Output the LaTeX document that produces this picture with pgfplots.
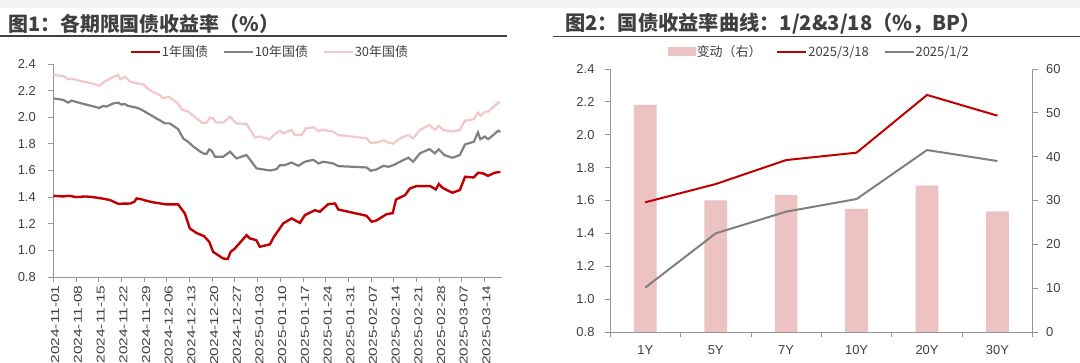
\documentclass[border=0pt]{standalone}
\usepackage{pgfplots}
\pgfplotsset{compat=1.18}
\usepackage{fontspec}
\setmainfont{Liberation Sans}
\newfontfamily\cjk{Noto Sans CJK SC}
\definecolor{cred}{RGB}{192,0,0}
\definecolor{cgray}{RGB}{128,128,128}
\definecolor{cpink}{RGB}{242,200,200}
\definecolor{cbar}{RGB}{236,194,194}
\definecolor{caxis}{RGB}{150,150,150}
\definecolor{ctext}{RGB}{64,64,64}
\newcommand\dl[1]{\scalebox{1.35}[1]{#1}}
\begin{document}
\begin{tikzpicture}
\useasboundingbox (0,0) rectangle (1080bp,363bp);
\fill[white] (0,0) rectangle (1080bp,363bp);
\fill[black!5] (0,355bp) rectangle (1080bp,363bp);
\node[anchor=west,inner sep=0pt,text=ctext] at (8bp,339bp) {\cjk\bfseries\fontsize{20}{23}\selectfont 图1：各期限国债收益率（\%）};
\draw[ctext,line width=1.2bp] (0,327bp) -- (507bp,327bp);
\node[anchor=west,inner sep=0pt,text=ctext] at (565bp,339bp) {\cjk\bfseries\fontsize{20.3}{23}\selectfont 图2：国债收益率曲线：1/2\&3/18（\%，BP）};
\draw[ctext,line width=1.2bp] (553bp,326.5bp) -- (1080bp,326.5bp);

\begin{axis}[
 at={(53.3bp,86bp)}, anchor=south west,
 width=448.7bp, height=213bp, scale only axis,
 xmin=0, xmax=138.4, ymin=0.8, ymax=2.4,
 axis x line*=bottom, axis y line*=left,
 axis line style={caxis, line width=0.8bp, -},
 tick align=outside, major tick length=5bp,
 tick style={caxis, line width=0.8bp},
 xtick={0,7,...,133},
 xticklabels={\dl{2024-11-01},\dl{2024-11-08},\dl{2024-11-15},\dl{2024-11-22},\dl{2024-11-29},\dl{2024-12-06},\dl{2024-12-13},\dl{2024-12-20},\dl{2024-12-27},\dl{2025-01-03},\dl{2025-01-10},\dl{2025-01-17},\dl{2025-01-24},\dl{2025-01-31},\dl{2025-02-07},\dl{2025-02-14},\dl{2025-02-21},\dl{2025-02-28},\dl{2025-03-07},\dl{2025-03-14}},
 xticklabel style={rotate=90, anchor=east, font=\fontsize{11.5}{13}\selectfont, text=ctext, yshift=-2bp},
 ytick={0.8,1.0,1.2,1.4,1.6,1.8,2.0,2.2,2.4},
 yticklabel style={font=\fontsize{13}{15}\selectfont, text=ctext, xshift=-9bp},
 /pgf/number format/fixed, /pgf/number format/fixed zerofill, /pgf/number format/precision=1,
 /pgf/number format/assume math mode=true,
 legend style={at={(0.482,1.056)}, anchor=center, draw=none, fill=none, legend columns=3,
   font=\cjk\fontsize{13}{15}\selectfont, text=ctext, nodes={inner sep=1bp},
   /tikz/every even column/.append style={column sep=14bp}},
 legend image code/.code={\draw[#1,line width=1.8bp] (0bp,0bp) -- (29bp,0bp);},
]
\addplot[cred, line width=2.4bp] coordinates {(0,1.41)(3,1.405)(5,1.41)(7,1.40)(10,1.405)(12.3,1.40)(15,1.39)(17.5,1.378)(20,1.35)(23.7,1.352)(25,1.365)(25.7,1.39)(27,1.385)(28.8,1.372)(31,1.36)(32.9,1.353)(35,1.345)(38.5,1.345)(40.6,1.277)(42.1,1.165)(44.2,1.13)(46.5,1.107)(48.1,1.064)(49.3,0.989)(50.4,0.971)(52.4,0.939)(53.8,0.935)(54.7,0.989)(56,1.014)(59.6,1.114)(60.6,1.09)(62.6,1.077)(63.7,1.027)(66.8,1.045)(68,1.10)(70.9,1.202)(73.5,1.24)(75,1.22)(76.1,1.207)(77.6,1.265)(80.7,1.302)(82.2,1.29)(84.8,1.347)(86.9,1.352)(87.9,1.307)(96.6,1.26)(98.2,1.215)(99.7,1.225)(102.8,1.272)(104.7,1.28)(105.7,1.382)(108.5,1.415)(110,1.465)(112,1.483)(116.2,1.483)(118,1.458)(118.9,1.498)(120.2,1.468)(123.1,1.433)(125.4,1.453)(127,1.553)(129.7,1.548)(131,1.583)(132.6,1.578)(134.1,1.56)(136.1,1.583)(137.9,1.59)};
\addlegendentry{1年国债}
\addplot[cgray, line width=2.2bp] coordinates {(0,2.142)(3.1,2.13)(4.6,2.11)(5.6,2.125)(9.3,2.10)(11.8,2.085)(14.2,2.07)(15.4,2.085)(16.4,2.08)(18.5,2.104)(20,2.11)(21,2.095)(22,2.10)(23.1,2.085)(25.7,2.072)(27.2,2.057)(28.8,2.034)(31.9,1.99)(32.9,1.977)(34.4,1.954)(35.9,1.954)(38.5,1.911)(40.1,1.84)(41.6,1.815)(43.2,1.78)(45.2,1.744)(46.5,1.726)(47.3,1.726)(48.1,1.759)(48.8,1.749)(49.9,1.703)(52.4,1.703)(54.5,1.741)(56.5,1.691)(59.6,1.716)(62.7,1.616)(66.8,1.60)(68.9,1.61)(69.9,1.64)(71.4,1.64)(73.5,1.66)(75.6,1.635)(77.6,1.666)(80.2,1.68)(81.8,1.653)(83.3,1.666)(86.3,1.653)(87.9,1.633)(96.6,1.623)(97.9,1.598)(99.7,1.608)(101.8,1.635)(103.4,1.628)(104.9,1.64)(106.9,1.666)(109.5,1.696)(111,1.666)(113.1,1.729)(116,1.761)(117.7,1.729)(118.9,1.759)(120.6,1.716)(123.1,1.696)(125.4,1.716)(127,1.796)(129.7,1.816)(131,1.886)(131.7,1.835)(133.1,1.855)(134.1,1.835)(135.8,1.868)(137.2,1.899)(137.9,1.89)};
\addlegendentry{10年国债}
\addplot[cpink, line width=2.2bp] coordinates {(0,2.317)(3.1,2.31)(4.6,2.285)(5.6,2.29)(9.3,2.267)(11.8,2.255)(14.2,2.237)(15.4,2.26)(17.5,2.29)(19,2.31)(20,2.317)(20.6,2.285)(22.1,2.305)(23.7,2.267)(25.7,2.255)(27.8,2.247)(28.8,2.222)(30.9,2.187)(32.9,2.167)(33.9,2.142)(35.5,2.155)(37,2.13)(38.5,2.10)(39.8,2.054)(41.6,2.042)(43.2,2.012)(44.7,1.98)(46.3,1.954)(47.3,1.96)(48.3,1.997)(49.3,1.992)(50.2,1.96)(52.4,1.96)(54.5,2.004)(56.5,1.954)(59.6,1.95)(62.2,1.849)(63.7,1.855)(66.8,1.834)(67.8,1.862)(69.9,1.899)(70.9,1.88)(73.5,1.905)(74.5,1.867)(76.6,1.867)(77.9,1.917)(80.2,1.925)(81.7,1.897)(83.3,1.905)(86.3,1.892)(87.9,1.867)(96.6,1.842)(97.9,1.808)(99.7,1.81)(101.8,1.827)(103.3,1.81)(104.8,1.802)(107.4,1.847)(109.5,1.867)(111,1.842)(113.1,1.905)(116,1.942)(117.7,1.905)(118.9,1.935)(120.2,1.905)(123.1,1.892)(125.4,1.905)(127,1.974)(129.7,1.985)(131,2.034)(131.8,2.012)(133.1,2.042)(134.1,2.042)(135.9,2.08)(137.2,2.112)(137.9,2.11)};
\addlegendentry{30年国债}
\end{axis}

\begin{axis}[
 at={(610bp,31bp)}, anchor=south west,
 width=422.7bp, height=263bp, scale only axis,
 xmin=-0.5, xmax=5.5, ymin=0, ymax=60,
 axis x line*=bottom, axis y line*=right,
 axis line style={caxis, line width=0.8bp, -},
 tick align=outside, major tick length=5bp, minor tick length=5bp,
 tick style={caxis, line width=0.8bp},
 xtick={0,...,5}, xticklabels={1Y,5Y,7Y,10Y,20Y,30Y},
 major x tick style={draw=none},
 minor xtick={-0.5,0.5,...,5.5},
 xticklabel style={font=\fontsize{13}{15}\selectfont, text=ctext, yshift=-5bp},
 ytick={0,10,...,60},
 yticklabel style={font=\fontsize{13}{15}\selectfont, text=ctext, xshift=5bp},
 /pgf/number format/assume math mode=true,
 legend style={at={(0.494,1.065)}, anchor=center, draw=none, fill=none, legend columns=3,
   font=\cjk\fontsize{13}{15}\selectfont, text=ctext, nodes={inner sep=1bp},
   /tikz/every even column/.append style={column sep=14bp}},
 legend image code/.code={\draw[#1,line width=1.8bp] (0bp,0bp) -- (29bp,0bp);},
]
\addplot[ybar, bar width=22.7bp, fill=cbar, draw=none,
  legend image code/.code={\fill[cbar] (0bp,-4.5bp) rectangle (28bp,4.5bp);}]
  coordinates {(0,51.8)(1,30.0)(2,31.3)(3,28.1)(4,33.4)(5,27.5)};
\addlegendentry{变动（右）}
\addlegendimage{cred}
\addlegendentry{2025/3/18}
\addlegendimage{cgray}
\addlegendentry{2025/1/2}
\end{axis}

\begin{axis}[
 at={(610bp,31bp)}, anchor=south west,
 width=422.7bp, height=263bp, scale only axis,
 xmin=-0.5, xmax=5.5, ymin=0.8, ymax=2.4,
 axis x line=none, axis y line*=left,
 axis line style={caxis, line width=0.8bp, -},
 tick align=outside, major tick length=5bp,
 tick style={caxis, line width=0.8bp},
 ytick={0.8,1.0,1.2,1.4,1.6,1.8,2.0,2.2,2.4},
 yticklabel style={font=\fontsize{13}{15}\selectfont, text=ctext, xshift=-7bp},
 /pgf/number format/fixed, /pgf/number format/fixed zerofill, /pgf/number format/precision=1,
 /pgf/number format/assume math mode=true,
]
\addplot[cred, line width=2bp] coordinates {(0,1.589)(1,1.70)(2,1.846)(3,1.891)(4,2.242)(5,2.116)};
\addplot[cgray, line width=2bp] coordinates {(0,1.07)(1,1.40)(2,1.532)(3,1.609)(4,1.907)(5,1.84)};
\end{axis}
\end{tikzpicture}
\end{document}
